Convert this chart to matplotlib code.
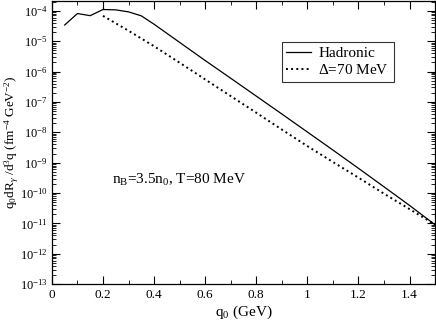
import numpy as np
import matplotlib
matplotlib.use("Agg")
import matplotlib.pyplot as plt
from matplotlib.ticker import LogLocator, MultipleLocator, NullFormatter

plt.rcParams['font.family'] = ['Liberation Serif', 'DejaVu Serif']
plt.rcParams['mathtext.fontset'] = 'custom'
plt.rcParams['mathtext.rm'] = 'Liberation Serif'
plt.rcParams['mathtext.it'] = 'Liberation Serif:italic'
plt.rcParams['mathtext.sf'] = 'Liberation Serif'

# Hadronic rate (solid)
q_had = [0.05, 0.10, 0.15, 0.20, 0.25, 0.30, 0.35, 0.40, 0.50, 0.60,
         0.70, 0.80, 0.90, 1.00, 1.10, 1.20, 1.30, 1.40, 1.50]
r_had = [3.4e-5, 8.1e-5, 6.9e-5, 1.1e-4, 1.07e-4, 9.2e-5, 6.8e-5, 3.6e-5,
         9.1e-6, 2.3e-6, 6.0e-7, 1.55e-7, 4.0e-8, 1.02e-8, 2.6e-9,
         6.5e-10, 1.6e-10, 3.9e-11, 9.0e-12]

# Delta = 70 MeV (dotted)
q_del = [0.2, 0.3, 0.4, 0.5, 0.6, 0.7, 0.8, 0.9, 1.0, 1.1, 1.2, 1.3, 1.4, 1.5]
r_del = [6.8e-5, 2.2e-5, 6.8e-6, 1.95e-6, 5.5e-7, 1.55e-7, 4.4e-8, 1.23e-8,
         3.5e-9, 1.05e-9, 3.2e-10, 9.5e-11, 2.95e-11, 9.1e-12]

fig = plt.figure(figsize=(4.36, 3.27), dpi=100)
ax = fig.add_axes([0.119, 0.131, 0.879, 0.866])

ax.plot(q_had, r_had, '-', color='black', lw=0.9, label='Hadronic')
ax.plot(q_del, r_del, ':', color='black', lw=1.4, label=r'$\Delta$=70 MeV')

ax.set_yscale('log')
ax.set_xlim(0, 1.5)
ax.set_ylim(1e-13, 2.1e-4)

ax.xaxis.set_minor_locator(MultipleLocator(0.1))
ax.set_xticks([0, 0.2, 0.4, 0.6, 0.8, 1.0, 1.2, 1.4])
ax.set_xticklabels(['0', '0.2', '0.4', '0.6', '0.8', '1', '1.2', '1.4'])
ax.yaxis.set_major_locator(LogLocator(base=10, numticks=20))
ax.yaxis.set_minor_locator(LogLocator(base=10, subs=np.arange(2, 10), numticks=20))
ax.yaxis.set_minor_formatter(NullFormatter())

ax.tick_params(which='both', direction='in', top=True, right=True, labelsize=9.5)
ax.tick_params(axis='y', labelsize=9, pad=3)
ax.tick_params(which='major', length=6, width=0.8)
ax.tick_params(which='minor', length=3, width=0.6)
for s in ax.spines.values():
    s.set_linewidth(0.9)

ax.set_xlabel(r'q$_0$ (GeV)', fontsize=11, labelpad=2)
ax.set_ylabel(r'q$_0$dR$_\gamma$ /d$^3$q (fm$^{-4}$ GeV$^{-2}$)', fontsize=9.5,
              va='center')
ax.yaxis.set_label_coords(-0.104, 0.5)

ax.text(0.235, 2.0e-10, r'n$_\mathrm{B}$=3.5n$_0$, T=80 MeV', fontsize=11, va='baseline')

leg = ax.legend(loc='upper left', bbox_to_anchor=(0.6, 0.855), fontsize=11,
                frameon=True, fancybox=False, edgecolor='black',
                handlelength=1.6, handletextpad=0.5, borderpad=0.3,
                labelspacing=0.2, borderaxespad=0)
leg.get_frame().set_linewidth(0.8)

fig.savefig('out.png', dpi=100)
